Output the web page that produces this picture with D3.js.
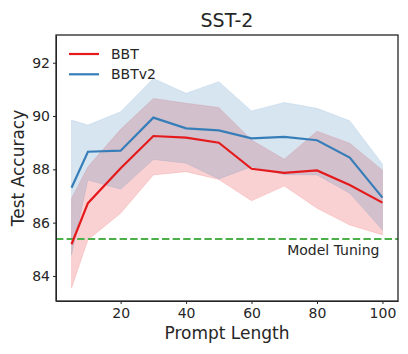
<!DOCTYPE html>
<html>
<head>
<meta charset="utf-8">
<script src="https://cdn.jsdelivr.net/npm/d3@7"></script>
<style>
  body { margin: 0; background: #fff; }
  text { font-family: 'DejaVu Sans', sans-serif; fill: #262626; }
  .axis path, .axis line { stroke: #262626; }
  .axis text { font-size: 14px; }
</style>
</head>
<body>
<svg id="chart"></svg>
<script>
// SST-2: test accuracy vs prompt length, mean line + min/max band per method
const promptLengths = [5, 10, 20, 30, 40, 50, 60, 70, 80, 90, 100];

const bbtMean = [85.19, 86.73, 88.04, 89.25, 89.19, 89.0, 88.02, 87.87, 87.96, 87.41, 86.75];
const bbtUpper = [86.91, 88.1, 89.5, 90.66, 90.48, 90.32, 89.1, 88.38, 89.43, 88.98, 87.97];
const bbtLower = [83.54, 85.35, 86.35, 87.79, 87.91, 87.62, 86.82, 87.37, 86.54, 85.91, 85.54];

const bbtv2Mean = [87.31, 88.66, 88.7, 89.94, 89.54, 89.46, 89.16, 89.22, 89.09, 88.44, 86.94];
const bbtv2Upper = [89.85, 89.66, 90.16, 91.41, 90.85, 91.29, 90.19, 90.51, 90.29, 89.82, 88.2];
const bbtv2Lower = [84.79, 87.6, 87.25, 88.37, 88.23, 87.64, 88.1, 87.8, 87.79, 87.1, 85.72];

const modelTuning = 85.39;

const xTicks = [20, 40, 60, 80, 100];
const yTicks = [84, 86, 88, 90, 92];

const seriesNames = ['BBT', 'BBTv2'];
const seriesColors = ['#e41a1c', '#377eb8'];

class BandChart {
  constructor(_config) {
    this.config = {
      parentElement: _config.parentElement,
      containerWidth: _config.containerWidth || 408,
      containerHeight: _config.containerHeight || 354,
      margin: _config.margin || {
        top: 35, right: 10, bottom: 53, left: 56,
      },
    };
    this.initVis();
  }

  initVis() {
    const vis = this;

    vis.width = vis.config.containerWidth - vis.config.margin.left - vis.config.margin.right;
    vis.height = vis.config.containerHeight - vis.config.margin.top - vis.config.margin.bottom;

    // matplotlib-like 5% padding around x data range
    vis.xScale = d3.scaleLinear()
      .domain([0.25, 104.75])
      .range([0, vis.width]);

    vis.yScale = d3.scaleLinear()
      .domain([83.06, 93.04])
      .range([vis.height, 0]);

    vis.xAxis = d3.axisBottom(vis.xScale)
      .tickValues(xTicks)
      .tickSize(3)
      .tickPadding(4)
      .tickSizeOuter(0);

    vis.yAxis = d3.axisLeft(vis.yScale)
      .tickValues(yTicks)
      .tickSize(3)
      .tickPadding(3)
      .tickSizeOuter(0);

    vis.svg = d3.select(vis.config.parentElement)
      .attr('width', vis.config.containerWidth)
      .attr('height', vis.config.containerHeight);

    vis.chart = vis.svg.append('g')
      .attr('transform', `translate(${vis.config.margin.left},${vis.config.margin.top})`);

    vis.bandG = vis.chart.append('g');
    vis.lineG = vis.chart.append('g');

    vis.xAxisG = vis.chart.append('g')
      .attr('class', 'axis x-axis')
      .attr('transform', `translate(0,${vis.height})`);

    vis.yAxisG = vis.chart.append('g')
      .attr('class', 'axis y-axis');

    // title + axis titles
    vis.svg.append('text')
      .attr('x', vis.config.margin.left + vis.width / 2)
      .attr('y', 27)
      .attr('text-anchor', 'middle')
      .style('font-size', '19px')
      .text('SST-2');

    vis.svg.append('text')
      .attr('x', vis.config.margin.left + vis.width / 2)
      .attr('y', 339)
      .attr('text-anchor', 'middle')
      .style('font-size', '17px')
      .text('Prompt Length');

    vis.svg.append('text')
      .attr('transform', `translate(24,${vis.config.margin.top + vis.height / 2}) rotate(-90)`)
      .attr('text-anchor', 'middle')
      .style('font-size', '17px')
      .text('Test Accuracy');

    vis.updateVis();
  }

  updateVis() {
    const vis = this;

    vis.series = [
      { name: seriesNames[0], color: seriesColors[0], mean: bbtMean, lo: bbtLower, hi: bbtUpper },
      { name: seriesNames[1], color: seriesColors[1], mean: bbtv2Mean, lo: bbtv2Lower, hi: bbtv2Upper },
    ].map((s) => ({
      ...s,
      points: promptLengths.map((x, i) => ({
        x, mean: s.mean[i], lo: s.lo[i], hi: s.hi[i],
      })),
    }));

    vis.area = d3.area()
      .x((d) => vis.xScale(d.x))
      .y0((d) => vis.yScale(d.lo))
      .y1((d) => vis.yScale(d.hi));

    vis.line = d3.line()
      .x((d) => vis.xScale(d.x))
      .y((d) => vis.yScale(d.mean));

    vis.renderVis();
  }

  renderVis() {
    const vis = this;

    vis.bandG.selectAll('.band')
      .data(vis.series)
      .join('path')
      .attr('class', 'band')
      .attr('d', (d) => vis.area(d.points))
      .attr('fill', (d) => d.color)
      .attr('fill-opacity', 0.2)
      .attr('stroke', (d) => d.color)
      .attr('stroke-opacity', 0.12)
      .attr('stroke-width', 1);

    // model tuning baseline
    vis.lineG.append('line')
      .attr('x1', 0)
      .attr('x2', vis.width)
      .attr('y1', vis.yScale(modelTuning))
      .attr('y2', vis.yScale(modelTuning))
      .attr('stroke', '#4daf4a')
      .attr('stroke-width', 2)
      .attr('stroke-dasharray', '7.4,3.2');

    vis.lineG.append('text')
      .attr('x', vis.xScale(100) - 3)
      .attr('y', vis.yScale(modelTuning) + 16)
      .attr('text-anchor', 'end')
      .style('font-size', '14px')
      .text('Model Tuning');

    vis.lineG.selectAll('.mean-line')
      .data(vis.series)
      .join('path')
      .attr('class', 'mean-line')
      .attr('d', (d) => vis.line(d.points))
      .attr('fill', 'none')
      .attr('stroke', (d) => d.color)
      .attr('stroke-width', 2.2);

    vis.xAxisG.call(vis.xAxis);
    vis.yAxisG.call(vis.yAxis);

    // full box frame
    vis.chart.append('rect')
      .attr('width', vis.width)
      .attr('height', vis.height)
      .attr('fill', 'none')
      .attr('stroke', '#262626')
      .attr('stroke-width', 1.3);

    // handmade legend
    const legendx = 13;
    const legendy = 19;
    vis.series.forEach((s, i) => {
      const y = legendy + i * 20.3;
      vis.chart.append('line')
        .attr('x1', legendx).attr('x2', legendx + 30)
        .attr('y1', y).attr('y2', y)
        .attr('stroke', s.color)
        .attr('stroke-width', 2.2);
      vis.chart.append('text')
        .attr('x', legendx + 42)
        .attr('y', y)
        .attr('dy', '0.35em')
        .style('font-size', '14px')
        .text(s.name);
    });
  }
}

const chart = new BandChart({ parentElement: '#chart' });
</script>
</body>
</html>
